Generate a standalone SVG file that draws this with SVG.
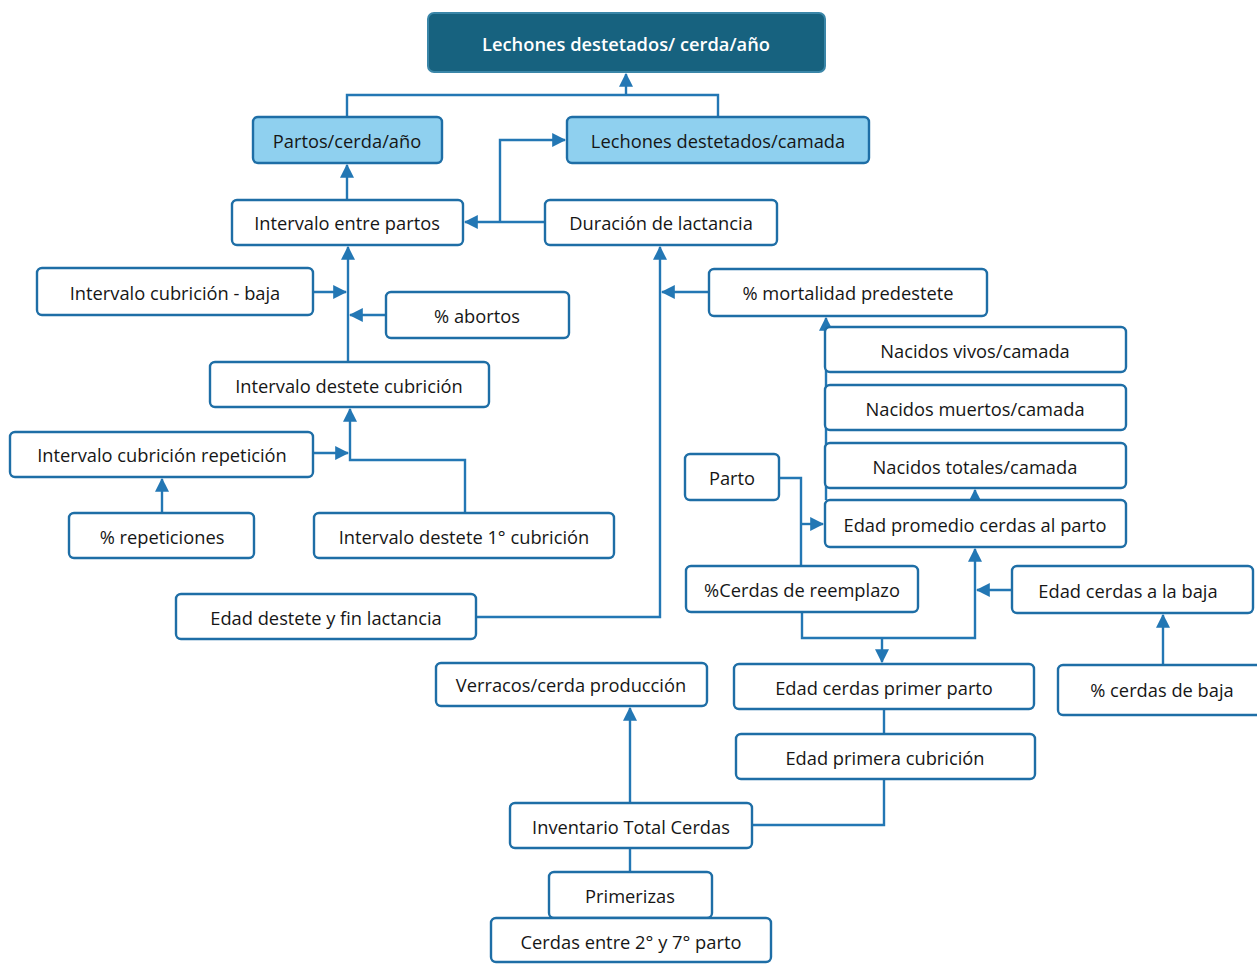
<svg xmlns="http://www.w3.org/2000/svg" width="1257" height="964" viewBox="0 0 1257 964">
<defs>
<style>
.n rect{fill:#ffffff;stroke:#1e6ea6;stroke-width:2.4}
.l rect{fill:#8fd0ef;stroke:#1e6ea6;stroke-width:2.4}
.d rect{fill:#17627f;stroke:#3a86a8;stroke-width:2}
text{font-family:"Open Sans","Noto Sans","Liberation Sans",sans-serif;font-size:18.3px;font-weight:500;fill:#161616;text-anchor:middle;dominant-baseline:central}
.d text{fill:#ffffff;font-size:18.3px;font-weight:600}
#conn path{fill:none;stroke:#2377b4;stroke-width:2.4}
</style>
<marker id="ah" viewBox="0 0 12 12" refX="11" refY="6" markerWidth="14" markerHeight="14" markerUnits="userSpaceOnUse" orient="auto">
<path d="M0,0 L12,6 L0,12 Z" fill="#2377b4"/>
</marker>
</defs>
<rect width="1257" height="964" fill="#ffffff"/>
<g id="conn">
<path d="M347,117 V95 H718 V117"/>
<path d="M626,95 V74" marker-end="url(#ah)"/>
<path d="M347,200 V165" marker-end="url(#ah)"/>
<path d="M545,222 H465" marker-end="url(#ah)"/>
<path d="M500,222 V140 H565" marker-end="url(#ah)"/>
<path d="M348,362 V247" marker-end="url(#ah)"/>
<path d="M313,292 H346" marker-end="url(#ah)"/>
<path d="M386,315 H350" marker-end="url(#ah)"/>
<path d="M465,513 V460 H350 V409" marker-end="url(#ah)"/>
<path d="M313,453 H348" marker-end="url(#ah)"/>
<path d="M162,513 V479" marker-end="url(#ah)"/>
<path d="M476,617 H660 V247" marker-end="url(#ah)"/>
<path d="M709,292 H662" marker-end="url(#ah)"/>
<path d="M826,500 V318" marker-end="url(#ah)"/>
<path d="M975,500 V490" marker-end="url(#ah)"/>
<path d="M779,478 H801 V566"/>
<path d="M801,524 H823" marker-end="url(#ah)"/>
<path d="M802,612 V638 H975 V549" marker-end="url(#ah)"/>
<path d="M882,638 V662" marker-end="url(#ah)"/>
<path d="M1012,590 H977" marker-end="url(#ah)"/>
<path d="M1163,665 V615" marker-end="url(#ah)"/>
<path d="M884,709 V734"/>
<path d="M884,779 V825 H752"/>
<path d="M630,803 V708" marker-end="url(#ah)"/>
<path d="M630,848 V872"/>
</g>
<g id="n-top" class="d"><rect x="428" y="13" width="397" height="59" rx="6"/><text x="626" y="43">Lechones destetados/ cerda/año</text></g>
<g id="n-partos" class="l"><rect x="253" y="117" width="189" height="46" rx="5"/><text x="347" y="140">Partos/cerda/año</text></g>
<g id="n-lech" class="l"><rect x="567" y="117" width="302" height="46" rx="5"/><text x="718" y="140">Lechones destetados/camada</text></g>
<g id="n-intpartos" class="n"><rect x="232" y="200" width="231" height="45" rx="5"/><text x="347" y="222">Intervalo entre partos</text></g>
<g id="n-durlact" class="n"><rect x="545" y="200" width="232" height="45" rx="5"/><text x="661" y="222">Duración de lactancia</text></g>
<g id="n-cubbaja" class="n"><rect x="37" y="268" width="276" height="47" rx="5"/><text x="175" y="292">Intervalo cubrición - baja</text></g>
<g id="n-abortos" class="n"><rect x="386" y="292" width="183" height="46" rx="5"/><text x="477" y="315">% abortos</text></g>
<g id="n-destcub" class="n"><rect x="210" y="362" width="279" height="45" rx="5"/><text x="349" y="385">Intervalo destete cubrición</text></g>
<g id="n-cubrep" class="n"><rect x="10" y="432" width="303" height="45" rx="5"/><text x="162" y="454">Intervalo cubrición repetición</text></g>
<g id="n-rep" class="n"><rect x="69" y="513" width="185" height="45" rx="5"/><text x="162" y="536">% repeticiones</text></g>
<g id="n-dest1" class="n"><rect x="314" y="513" width="300" height="45" rx="5"/><text x="464" y="536">Intervalo destete 1° cubrición</text></g>
<g id="n-edaddest" class="n"><rect x="176" y="594" width="300" height="45" rx="5"/><text x="326" y="617">Edad destete y fin lactancia</text></g>
<g id="n-mort" class="n"><rect x="709" y="269" width="278" height="47" rx="5"/><text x="848" y="292">% mortalidad predestete</text></g>
<g id="n-vivos" class="n"><rect x="825" y="327" width="301" height="45" rx="5"/><text x="975" y="350">Nacidos vivos/camada</text></g>
<g id="n-muertos" class="n"><rect x="825" y="385" width="301" height="45" rx="5"/><text x="975" y="408">Nacidos muertos/camada</text></g>
<g id="n-totales" class="n"><rect x="825" y="443" width="301" height="45" rx="5"/><text x="975" y="466">Nacidos totales/camada</text></g>
<g id="n-edadprom" class="n"><rect x="825" y="500" width="301" height="47" rx="5"/><text x="975" y="524">Edad promedio cerdas al parto</text></g>
<g id="n-parto" class="n"><rect x="685" y="454" width="94" height="46" rx="5"/><text x="732" y="477">Parto</text></g>
<g id="n-reemp" class="n"><rect x="686" y="566" width="232" height="46" rx="5"/><text x="802" y="589">%Cerdas de reemplazo</text></g>
<g id="n-edadbaja" class="n"><rect x="1012" y="566" width="241" height="47" rx="5"/><text x="1128" y="590">Edad cerdas a la baja</text></g>
<g id="n-pctbaja" class="n"><rect x="1058" y="665" width="205" height="50" rx="5"/><text x="1162" y="689">% cerdas de baja</text></g>
<g id="n-primparto" class="n"><rect x="734" y="664" width="300" height="45" rx="5"/><text x="884" y="687">Edad cerdas primer parto</text></g>
<g id="n-primcub" class="n"><rect x="736" y="734" width="299" height="45" rx="5"/><text x="885" y="757">Edad primera cubrición</text></g>
<g id="n-verr" class="n"><rect x="436" y="663" width="271" height="43" rx="5"/><text x="571" y="684">Verracos/cerda producción</text></g>
<g id="n-inv" class="n"><rect x="510" y="803" width="242" height="45" rx="5"/><text x="631" y="826">Inventario Total Cerdas</text></g>
<g id="n-prim" class="n"><rect x="549" y="872" width="163" height="46" rx="5"/><text x="630" y="895">Primerizas</text></g>
<g id="n-cerdas27" class="n"><rect x="491" y="918" width="280" height="44" rx="5"/><text x="631" y="941">Cerdas entre 2° y 7° parto</text></g>
</svg>
